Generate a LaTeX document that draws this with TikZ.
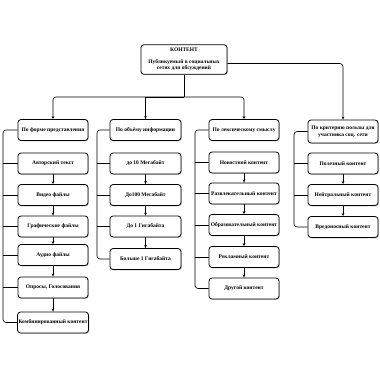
\documentclass[tikz,border=0pt]{standalone}
\usepackage{fontspec}
\setmainfont{Liberation Serif}
\usepackage{tikz}
\usetikzlibrary{arrows.meta,positioning,calc,shadows}

\begin{document}
\begin{tikzpicture}[x=1pt, y=-1pt,
    box/.style={draw, thick, rounded corners=3pt, minimum width=70pt, minimum height=21pt, align=center,
        inner xsep=1pt, font=\fontsize{5.5}{6.6}\selectfont\bfseries, fill=white,
        drop shadow={shadow xshift=0.8pt, shadow yshift=-0.8pt, opacity=0.45}},
    arr/.style={-{Stealth[length=3pt, width=2.6pt]}, semithick},
    brk/.style={semithick, rounded corners=3pt}
]
\useasboundingbox (0,0) rectangle (380,380);
\node[box, minimum width=86pt, minimum height=29pt] (cont) at (184,59.5) {КОНТЕНТ\\[5pt]Публикуемый в социальных\\сетях для обсуждений};

% column 1
\node[box] (f1) at (53,130) {По форме представления};
\node[box] (f2) at (53,163.5) {Авторский текст};
\node[box] (f3) at (53,195) {Видео файлы};
\node[box] (f4) at (53,226.5) {Графические файлы};
\node[box] (f5) at (53,255) {Аудио файлы};
\node[box] (f6) at (53,287.5) {Опросы, Голосования};
\node[box] (f7) at (53,322.5) {Комбинированный контент};

% column 2
\node[box, minimum width=71pt] (v1) at (145.5,130) {По объёму информации};
\node[box, minimum width=71pt] (v2) at (145.5,163.5) {до 10 Мегабайт};
\node[box, minimum width=71pt] (v3) at (145.5,195) {До100 Мегабайт};
\node[box, minimum width=71pt] (v4) at (145.5,226.5) {До 1 Гигабайта};
\node[box, minimum width=71pt] (v5) at (145.5,259) {Больше 1 Гигабайта};

% column 3
\node[box] (l1) at (244,130) {По лексическому смыслу};
\node[box] (l2) at (244,162.5) {Новостной контент};
\node[box] (l3) at (244,193.5) {Развлекательный контент};
\node[box] (l4) at (244,225) {Образовательный контент};
\node[box] (l5) at (244,257) {Рекламный контент};
\node[box] (l6) at (244,288.5) {Другой контент};

% column 4
\node[box, minimum height=23pt] (p1) at (343,131.5) {По критерию пользы для\\участника соц. сети};
\node[box] (p2) at (343,163.5) {Полезный контент};
\node[box] (p3) at (343,195) {Нейтральный контент};
\node[box] (p4) at (343,227) {Вредоносный контент};

% from the top box
\coordinate (j) at (184,97);
\draw[semithick] (cont.south) -- (j);
\draw[arr, rounded corners=3pt] (j) -| (f1.north);
\draw[arr] (j) -| (v1.north);
\draw[arr, rounded corners=3pt] (j) -| (l1.north);
\draw[arr, rounded corners=3pt] ([yshift=-4pt]cont.east) -| (p1.north);

% brackets
\coordinate (fb) at (3,130);
\coordinate (vb) at (97,130);
\coordinate (lb) at (195,130);
\coordinate (pb) at (294,131.5);
\draw[brk] (f1.west) -- (fb) |- (f7.west);
\draw[brk] (v1.west) -- (vb) |- (v5.west);
\draw[brk] (l1.west) -- (lb) |- (l6.west);
\draw[brk] (p1.west) -- (pb) |- (p4.west);
\draw[semithick] (f2.west) -- (f2.west -| fb);
\draw[semithick] (f3.west) -- (f3.west -| fb);
\draw[semithick] (f4.west) -- (f4.west -| fb);
\draw[semithick] (f5.west) -- (f5.west -| fb);
\draw[semithick] (f6.west) -- (f6.west -| fb);
\draw[semithick] (v2.west) -- (v2.west -| vb);
\draw[semithick] (v3.west) -- (v3.west -| vb);
\draw[semithick] (v4.west) -- (v4.west -| vb);
\draw[semithick] (l2.west) -- (l2.west -| lb);
\draw[semithick] (l3.west) -- (l3.west -| lb);
\draw[semithick] (l4.west) -- (l4.west -| lb);
\draw[semithick] (l5.west) -- (l5.west -| lb);
\draw[semithick] (p2.west) -- (p2.west -| pb);
\draw[semithick] (p3.west) -- (p3.west -| pb);

% arrows down each column
\draw[arr] (f2) -- (f3);
\draw[arr] (f3) -- (f4);
\draw[arr] (f4) -- (f5);
\draw[arr] (f5) -- (f6);
\draw[arr] (f6) -- (f7);
\draw[arr] (v2) -- (v3);
\draw[arr] (v3) -- (v4);
\draw[arr] (v4) -- (v5);
\draw[arr] (l2) -- (l3);
\draw[arr] (l3) -- (l4);
\draw[arr] (l4) -- (l5);
\draw[arr] (l5) -- (l6);
\draw[arr] (p2) -- (p3);
\draw[arr] (p3) -- (p4);
\end{tikzpicture}
\end{document}
